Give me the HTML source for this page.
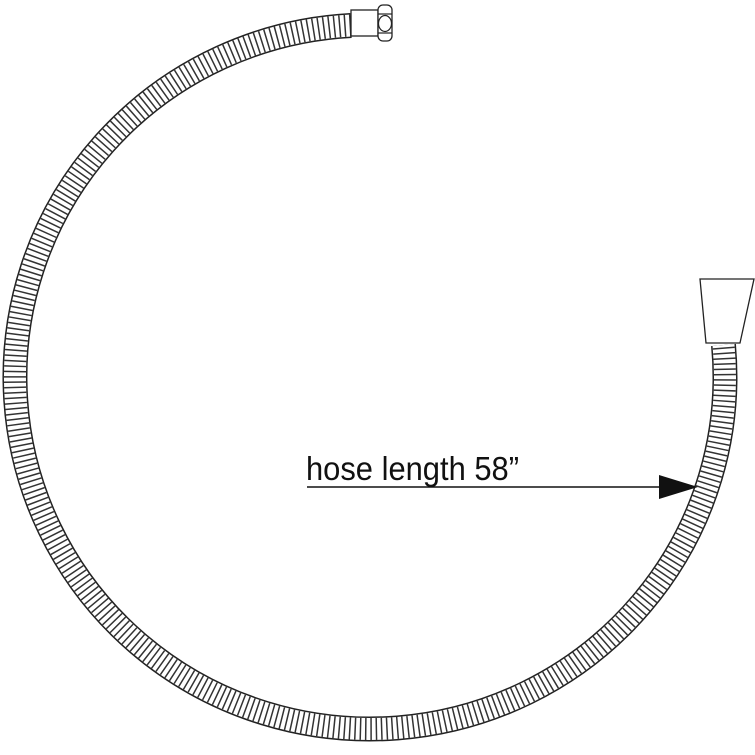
<!DOCTYPE html>
<html><head><style>html,body{margin:0;padding:0;background:#fff;width:755px;height:755px;overflow:hidden}</style></head>
<body>
<svg width="755" height="755" viewBox="0 0 755 755" xmlns="http://www.w3.org/2000/svg">
<path d="M351,25.5 A355 352 0 1 0 723.5,345" fill="none" stroke="#222" stroke-width="25"/>
<path d="M351,25.5 A355 352 0 1 0 723.5,345" fill="none" stroke="#fff" stroke-width="22"/>
<path d="M351,25.5 A355 352 0 1 0 723.5,345" fill="none" stroke="#333" stroke-width="22" stroke-dasharray="1.5 3.8"/>
<rect x="351" y="10" width="27" height="26" fill="#fff" stroke="#222" stroke-width="1.3"/>
<rect x="378" y="5" width="14" height="36" rx="5" fill="#fff" stroke="#222" stroke-width="1.3"/>
<line x1="378" y1="14" x2="392" y2="14" stroke="#222" stroke-width="1.2"/>
<line x1="378" y1="33" x2="392" y2="33" stroke="#222" stroke-width="1.2"/>
<ellipse cx="385" cy="23.5" rx="6.5" ry="8" fill="none" stroke="#222" stroke-width="1.2"/>
<polygon points="700,279 754,279 740,343 706,343" fill="#fff" stroke="#222" stroke-width="1.3"/>
<line x1="307" y1="487" x2="662" y2="487" stroke="#111" stroke-width="1.5"/>
<polygon points="659,475 698,487 659,499" fill="#111"/>
<text x="306" y="480" font-family="Liberation Sans, sans-serif" font-size="33" fill="#111" textLength="213" lengthAdjust="spacingAndGlyphs">hose length 58”</text>
</svg>
</body></html>
